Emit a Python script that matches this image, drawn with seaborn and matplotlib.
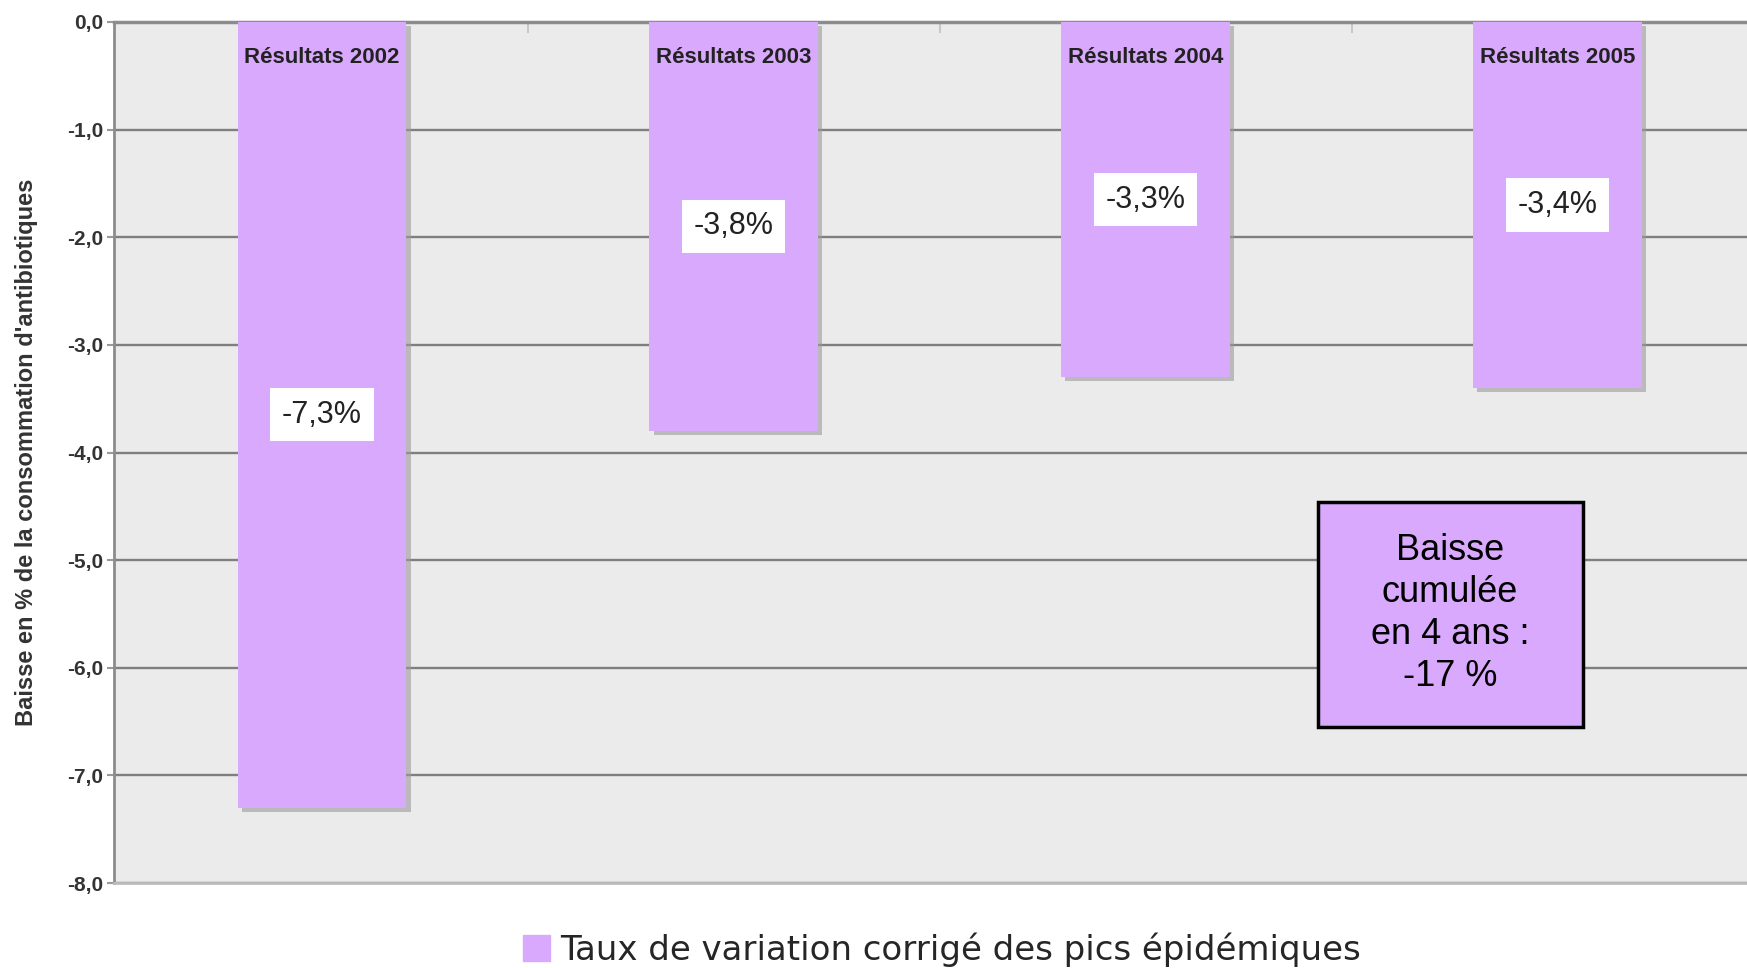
import matplotlib.pyplot as plt
import matplotlib.patheffects as pe
from matplotlib import font_manager
from matplotlib.patches import Rectangle, Patch
import pandas as pd
import seaborn as sns

annees = ["2002", "2003", "2004", "2005"]
taux = [-7.3, -3.8, -3.3, -3.4]
titres = ["Résultats 2002", "Résultats 2003", "Résultats 2004", "Résultats 2005"]
etiquettes = ["-7,3%", "-3,8%", "-3,3%", "-3,4%"]
graduations = [0, -1, -2, -3, -4, -5, -6, -7, -8]
titre_y = "Baisse en % de la consommation d'antibiotiques"
legende = "Taux de variation corrigé des pics épidémiques"
encadre = "Baisse\ncumulée\nen 4 ans :\n-17 %"

sns.set_theme(style="white")
noms = {f.name for f in font_manager.fontManager.ttflist}
etroite = "Liberation Sans Narrow" if "Liberation Sans Narrow" in noms else "Liberation Sans"
plt.rcParams["font.family"] = ["Liberation Sans", "DejaVu Sans"]

lavande = "#d8a9fd"
df = pd.DataFrame({"annee": annees, "taux": taux})

fig = plt.figure(figsize=(17.47, 9.68), dpi=100)
ax = fig.add_axes([114 / 1747, 85 / 968, 1 - 114 / 1747, 861 / 968])
ax.set_facecolor("#ebebeb")

sns.barplot(data=df, x="annee", y="taux", color=lavande, saturation=1,
            width=0.41, ax=ax, zorder=3, edgecolor="none", linewidth=0)
for p in ax.patches:
    p.set_path_effects([pe.SimplePatchShadow(offset=(3, -3), shadow_rgbFace="#9a9a9a", alpha=0.6),
                        pe.Normal()])

for i, (t, v, e) in enumerate(zip(titres, taux, etiquettes)):
    ax.text(i, -0.33, t, ha="center", va="center", fontsize=16,
            fontweight="bold", color="#222222", zorder=5)
    ax.text(i, v / 2, e, ha="center", va="center", fontsize=22, family=etroite,
            color="#222222", zorder=5,
            bbox=dict(boxstyle="square,pad=0.38", fc="white", ec="none"))

ax.set_xlim(-0.505, 3.46)
ax.set_ylim(-8, 0)
ax.set_yticks(graduations)
ax.set_yticklabels([f"{g:.1f}".replace(".", ",") for g in graduations],
                   fontsize=15, fontweight="bold", color="#333333")
ax.set_xticks([0.5, 1.5, 2.5])
ax.tick_params(axis="x", top=True, bottom=False, labeltop=False, labelbottom=False,
               direction="in", length=8, color="#c8c8c8", width=1.5)
ax.tick_params(axis="y", left=True, length=5, color="#999999", width=1.5, pad=3)
ax.set_xlabel("")
ax.set_ylabel(titre_y, fontsize=17, fontweight="bold", color="#333333")
ax.yaxis.set_label_coords((38 - 114) / 1633, 0.5)

ax.set_axisbelow(True)
ax.yaxis.grid(True, color="#7f7f7f", linewidth=1.7)
ax.spines["right"].set_visible(False)
ax.spines["top"].set_color("#8c8c8c")
ax.spines["top"].set_linewidth(2.5)
ax.spines["left"].set_color("#8c8c8c")
ax.spines["left"].set_linewidth(2)
ax.spines["bottom"].set_color("#bdbdbd")
ax.spines["bottom"].set_linewidth(2)

ax.add_patch(Rectangle((0.737, 0.181), 0.1625, 0.262, transform=ax.transAxes,
                       fc=lavande, ec="black", lw=2.5, zorder=4))
ax.text(0.818, 0.313, encadre, transform=ax.transAxes, ha="center", va="center",
        fontsize=26, family=etroite, linespacing=1.25, color="black", zorder=5)

fig.legend([Patch(color=lavande)], [legende], loc="center", bbox_to_anchor=(0.539, 0.0186),
           frameon=False, prop=dict(family="DejaVu Sans", size=24.5),
           handlelength=0.8, handleheight=0.8, handletextpad=0.3)

fig.savefig("out.png", dpi=100)
